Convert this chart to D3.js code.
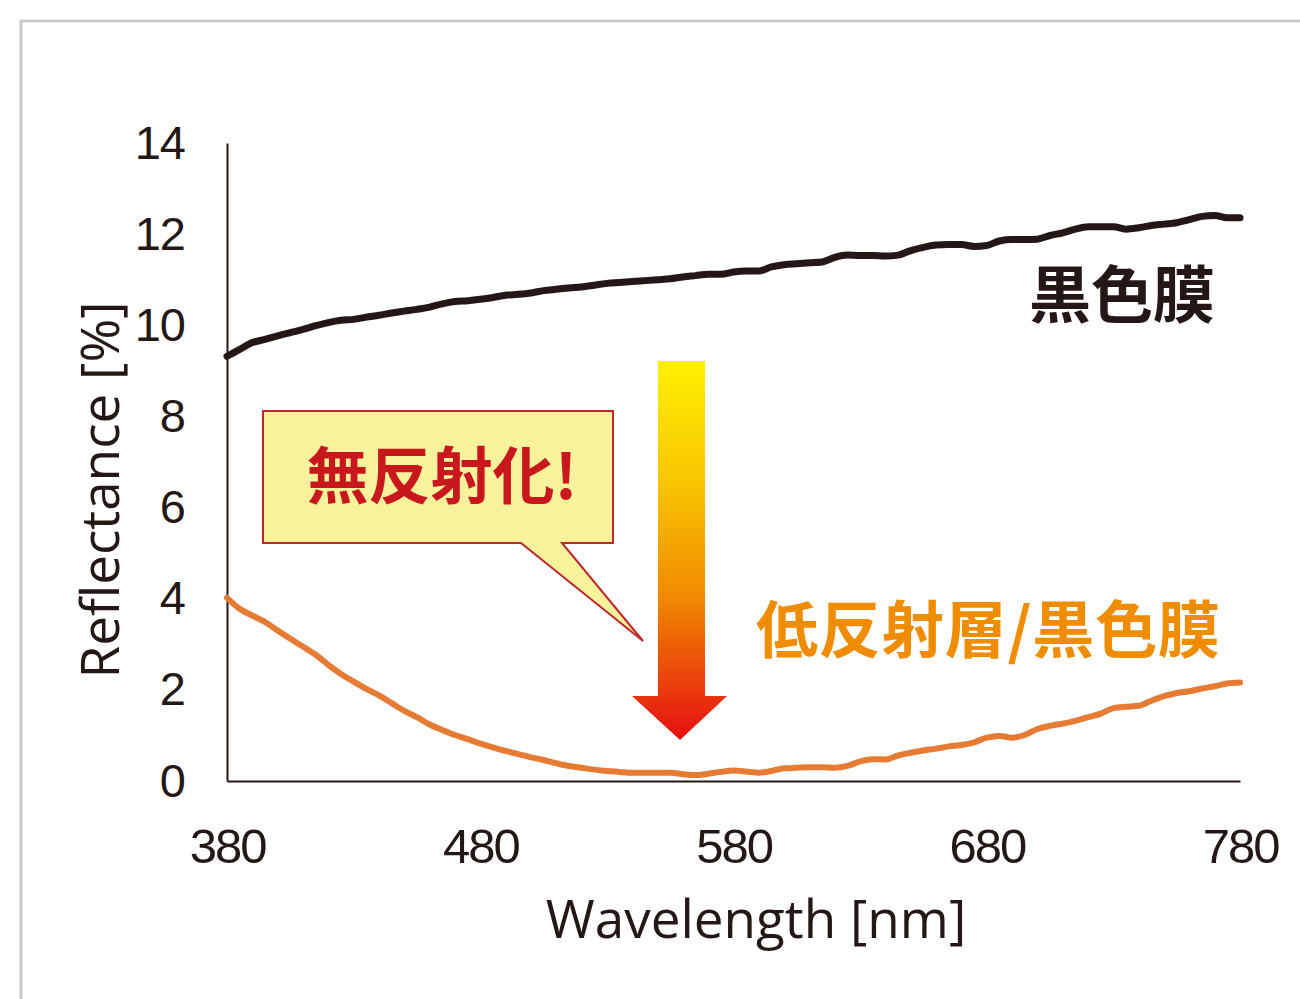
<!DOCTYPE html>
<html>
<head>
<meta charset="utf-8">
<script src="https://cdn.jsdelivr.net/npm/d3@7"></script>
<style>
  html, body { margin: 0; padding: 0; background: #fff; }
  svg { display: block; }
</style>
</head>
<body>
<svg id="chart" width="1300" height="999"></svg>
<script>
// ---- data ----
const wavelengths = d3.range(380, 781, 5);
const blackFilm = [
  9.32, 9.47, 9.62, 9.69, 9.77, 9.84, 9.91, 9.99, 10.06, 10.11,
  10.13, 10.18, 10.22, 10.27, 10.31, 10.35, 10.40, 10.47, 10.52, 10.54,
  10.57, 10.61, 10.66, 10.68, 10.71, 10.76, 10.79, 10.82, 10.84, 10.88,
  10.92, 10.94, 10.96, 10.98, 11.00, 11.02, 11.06, 11.09, 11.12, 11.12,
  11.17, 11.19, 11.19, 11.28, 11.33, 11.35, 11.37, 11.39, 11.49, 11.54,
  11.53, 11.53, 11.52, 11.54, 11.64, 11.71, 11.76, 11.77, 11.77, 11.73,
  11.75, 11.85, 11.88, 11.88, 11.89, 11.97, 12.03, 12.11, 12.16, 12.16,
  12.16, 12.11, 12.14, 12.19, 12.22, 12.25, 12.32, 12.39, 12.41, 12.36,
  12.36
];
const lowReflect = [
  4.02, 3.78, 3.63, 3.49, 3.30, 3.12, 2.95, 2.77, 2.55, 2.35,
  2.18, 2.02, 1.88, 1.71, 1.54, 1.40, 1.24, 1.12, 1.01, 0.92,
  0.82, 0.74, 0.66, 0.59, 0.52, 0.46, 0.39, 0.33, 0.29, 0.25,
  0.22, 0.20, 0.18, 0.18, 0.18, 0.18, 0.15, 0.13, 0.16, 0.20,
  0.23, 0.21, 0.18, 0.22, 0.28, 0.29, 0.30, 0.30, 0.29, 0.33,
  0.43, 0.48, 0.47, 0.56, 0.62, 0.67, 0.71, 0.76, 0.79, 0.85,
  0.95, 0.99, 0.95, 1.01, 1.14, 1.21, 1.26, 1.32, 1.40, 1.48,
  1.60, 1.63, 1.65, 1.76, 1.86, 1.93, 1.97, 2.03, 2.08, 2.14,
  2.16
];
const xTicks = [380, 480, 580, 680, 780];
const yTicks = [0, 2, 4, 6, 8, 10, 12, 14];
const xTitle = "Wavelength [nm]";
const yTitle = "Reflectance [%]";
const labelBlack = "黒色膜";
const labelLow = "低反射層/黒色膜";
const calloutText = "無反射化!";

// ---- drawing ----
const svg = d3.select("#chart");
const x = d3.scaleLinear().domain([380, 780]).range([227, 1240]);
const y = d3.scaleLinear().domain([0, 14]).range([781, 143]);
const ink = "#231815";

// outer frame
svg.append("path")
  .attr("d", "M21,999 V21 H1300")
  .attr("fill", "none").attr("stroke", "#cccccc").attr("stroke-width", 3);

// gradient for the arrow
const defs = svg.append("defs");
const grad = defs.append("linearGradient").attr("id", "arrowGrad")
  .attr("x1", 0).attr("y1", 0).attr("x2", 0).attr("y2", 1);
grad.append("stop").attr("offset", "0%").attr("stop-color", "#fff100");
grad.append("stop").attr("offset", "35%").attr("stop-color", "#f8c000");
grad.append("stop").attr("offset", "62%").attr("stop-color", "#f08a00");
grad.append("stop").attr("offset", "100%").attr("stop-color", "#e50f12");

// axes
const yAxis = d3.axisLeft(y).tickValues(yTicks).tickSize(0).tickPadding(42);
const gy = svg.append("g").attr("transform", `translate(${x(380)},0)`).call(yAxis);
gy.select(".domain").attr("stroke", ink).attr("stroke-width", 2);
gy.selectAll("text")
  .attr("font-family", "'Liberation Sans', Arial, sans-serif")
  .attr("font-size", 47).attr("fill", ink).attr("letter-spacing", -1);

const xAxis = d3.axisBottom(x).tickValues(xTicks).tickSize(0).tickPadding(47);
const gx = svg.append("g").attr("transform", `translate(0,${y(0)})`).call(xAxis);
gx.select(".domain").attr("stroke", ink).attr("stroke-width", 2);
gx.selectAll("text")
  .attr("font-family", "'Liberation Sans', Arial, sans-serif")
  .attr("font-size", 49).attr("fill", ink).attr("letter-spacing", -2);

// axis titles
svg.append("text")
  .attr("x", 756).attr("y", 938)
  .attr("text-anchor", "middle")
  .attr("font-family", "'Open Sans', 'Noto Sans', sans-serif")
  .attr("font-size", 53).attr("fill", ink)
  .text(xTitle);
svg.append("text")
  .attr("transform", "translate(119,490) rotate(-90)")
  .attr("text-anchor", "middle")
  .attr("font-family", "'Open Sans', 'Noto Sans', sans-serif")
  .attr("font-size", 53).attr("fill", ink)
  .text(yTitle);

// lines
const line = d3.line().x((d, i) => x(wavelengths[i])).y(d => y(d)).curve(d3.curveMonotoneX);
svg.append("path").datum(blackFilm)
  .attr("d", line).attr("fill", "none")
  .attr("stroke", ink).attr("stroke-width", 7)
  .attr("stroke-linecap", "round").attr("stroke-linejoin", "round");
svg.append("path").datum(lowReflect)
  .attr("d", line).attr("fill", "none")
  .attr("stroke", "#e67b33").attr("stroke-width", 6)
  .attr("stroke-linecap", "round").attr("stroke-linejoin", "round");

// series labels
svg.append("text")
  .attr("x", 1122).attr("y", 318)
  .attr("text-anchor", "middle")
  .attr("font-family", "'Noto Sans CJK JP', sans-serif")
  .attr("font-weight", 700).attr("font-size", 62).attr("fill", ink)
  .text(labelBlack);
svg.append("text")
  .attr("x", 756).attr("y", 653)
  .attr("textLength", 464).attr("lengthAdjust", "spacing")
  .attr("font-family", "'Noto Sans CJK JP', sans-serif")
  .attr("font-weight", 700).attr("font-size", 62).attr("fill", "#f08c00")
  .text(labelLow);

// gradient arrow
svg.append("path")
  .attr("d", "M658,361 H705 V696 H727 L680,740 L632,696 H658 Z")
  .attr("fill", "url(#arrowGrad)");

// callout
svg.append("path")
  .attr("d", "M263,411 H613 V543 H562 L643,641 L521,543 H263 Z")
  .attr("fill", "#f7f29b").attr("stroke", "#c0272d").attr("stroke-width", 2)
  .attr("stroke-linejoin", "miter");
svg.append("text")
  .attr("x", 442).attr("y", 499)
  .attr("text-anchor", "middle")
  .attr("font-family", "'Noto Sans CJK JP', sans-serif")
  .attr("font-weight", 700).attr("font-size", 62).attr("fill", "#c9171e")
  .text(calloutText);
</script>
</body>
</html>
